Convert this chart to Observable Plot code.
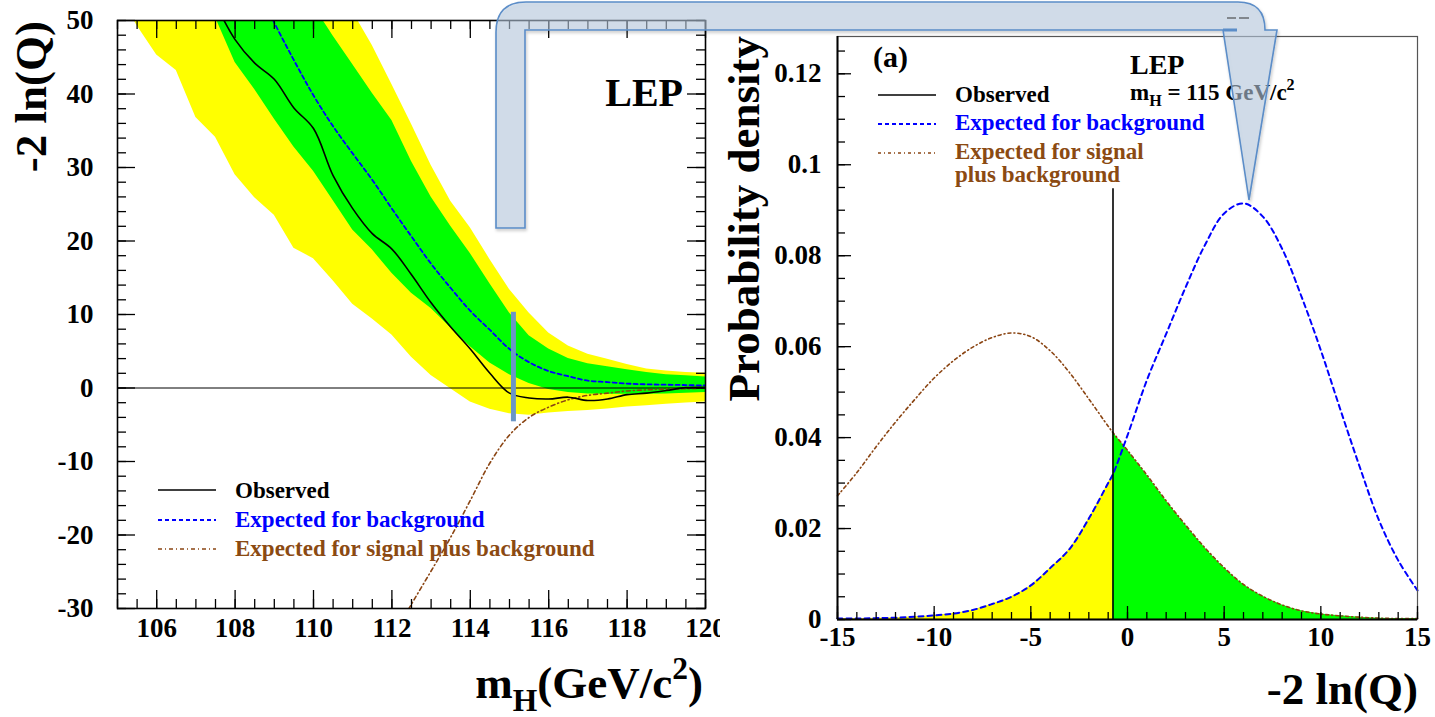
<!DOCTYPE html>
<html><head><meta charset="utf-8">
<script src="https://cdn.jsdelivr.net/npm/d3@7"></script>
<script src="https://cdn.jsdelivr.net/npm/@observablehq/plot@0.6"></script>
<style>
body{margin:0;background:#fff;}
#wrap{position:relative;width:1435px;height:717px;overflow:hidden;background:#fff;}
#left{position:absolute;left:0;top:0;}
#right{position:absolute;left:720px;top:0;}
#overlay{position:absolute;left:0;top:0;pointer-events:none;}
</style></head><body>
<div id="wrap"><div id="left"></div><div id="right"></div></div>
<script>
// ---------------- Left panel: -2 ln(Q) versus m_H ----------------
const mass = [105,105.5,106,106.5,107,107.5,108,108.5,109,109.5,110,110.5,111,111.5,112,112.5,113,113.5,114,114.5,115,115.5,116,116.5,117,117.5,118,118.5,119,119.5,120];
const yellowLow  = [54,49.3,45.3,43.2,36.8,34.1,29.0,25.9,23.5,19.0,17.6,14.6,11.4,9.4,7.2,4.2,1.7,-0.1,-1.9,-2.9,-3.5,-3.7,-3.4,-3.2,-3.05,-2.85,-2.6,-2.4,-2.2,-2.05,-1.9];
const yellowHigh = [112,106,100,94,88,83,78,73,68,64,60,55.5,51.2,46.6,41.3,35.9,30.3,25.4,21.8,17.5,13.4,10.2,7.5,5.7,4.6,3.9,3.2,2.6,2.3,2.1,2.0];
const greenLow   = [68,64,60,57,54,50.4,44.3,40.6,36.6,32.8,29.5,25.5,21.5,18.8,15.6,12.9,10.8,8.2,5.6,3.4,1.8,0.6,-0.2,-0.6,-0.8,-0.85,-0.85,-0.85,-0.8,-0.7,-0.6];
const greenHigh  = [95,90,85,80,75,70,66,62,59,55.5,52,47.9,44.0,40.1,36.4,30.8,26.0,22.0,18.3,14.2,10.2,7.1,5.3,4.0,3.3,2.9,2.5,2.1,1.8,1.65,1.5];
const observed   = [null,null,null,null,null,52.3,47.4,44.2,42.0,38.1,35.3,28.9,24.4,21.0,18.9,15.4,11.6,8.3,5.3,2.0,-0.7,-1.35,-1.5,-1.25,-1.7,-1.5,-0.9,-0.7,-0.35,0.05,0.1];
const expBkg     = [null,null,null,null,null,null,null,55.3,49.7,44.6,39.8,35.6,31.9,28.3,24.4,20.6,16.9,13.6,10.5,7.9,5.3,3.5,2.3,1.6,1.0,0.8,0.6,0.5,0.45,0.4,0.34];
const expSB      = [null,null,null,null,null,null,null,null,null,null,null,null,null,null,-34,-29.4,-24.9,-20.3,-15.3,-10.2,-6.4,-4.0,-2.6,-1.6,-1.0,-0.7,-0.4,-0.25,-0.15,-0.1,0];
const markerMass = [115.1];
const markerLow  = [-4.6];
const markerHigh = [10.3];
const leftXTicks = [106,108,110,112,114,116,118,120];
const leftYTicks = [-30,-20,-10,0,10,20,30,40,50];

// ---------------- Right panel: probability densities ----------------
const lnQ    = [-15,-14,-13,-12,-11,-10,-9,-8,-7,-6,-5,-4,-3,-2,-1,-0.75,0,1,2,3,4,5,6,7,8,9,10,11,12,13,14,15];
const pdfBkg = [0.0002,0.0002,0.0003,0.0004,0.0006,0.0009,0.0013,0.0021,0.0034,0.0050,0.0075,0.0113,0.0155,0.0222,0.0300,0.0320,0.0405,0.0526,0.0628,0.0730,0.0823,0.0893,0.0915,0.0886,0.0815,0.0710,0.0592,0.0463,0.0337,0.0219,0.0130,0.0064];
const pdfSB  = [0.0272,0.0323,0.0380,0.0434,0.0484,0.0531,0.0569,0.0599,0.0620,0.0630,0.0622,0.0591,0.0543,0.0485,0.0425,0.0411,0.0372,0.0318,0.0261,0.0208,0.0158,0.0114,0.0077,0.0051,0.0032,0.0019,0.0012,0.0008,0.0005,0.0003,0.0002,0.0002];
const observedLnQ = [-0.75];
const observedTop = [0.0947];
const rightXTicks = [-15,-10,-5,0,5,10,15];
const rightYTicks = [0,0.02,0.04,0.06,0.08,0.1,0.12];

const FONT = "'Liberation Serif','Times New Roman',Times,serif";
const BROWN = "#8b4513";
const BLUE = "#0000ff";

const leftRows = mass.map((m,i)=>({m, yl:yellowLow[i], yh:yellowHigh[i], gl:greenLow[i], gh:greenHigh[i], obs:observed[i], bkg:expBkg[i], sb:expSB[i]}));
const markerRows = markerMass.map((m,i)=>({m, lo:markerLow[i], hi:markerHigh[i]}));
const rightRows = lnQ.map((x,i)=>({x, bkg:pdfBkg[i], sb:pdfSB[i]}));
const obsRows = observedLnQ.map((x,i)=>({x, lo:0, hi:observedTop[i]}));

// Left panel geometry (frame inside margins)
const L = {w:720, h:717, ml:117, mr:15, mt:20, mb:109};
const LFW = L.w-L.ml-L.mr, LFH = L.h-L.mt-L.mb;
const leftMinorX = d3.range(105, 120.001, 0.5);
const leftMinorY = d3.range(-30, 50.001, 2);

const left = Plot.plot({
  width:L.w, height:L.h, marginLeft:L.ml, marginRight:L.mr, marginTop:L.mt, marginBottom:L.mb,
  style:{fontFamily:FONT, fontWeight:"bold", fontSize:"27px", background:"white", color:"black"},
  x:{domain:[105,120], ticks:leftXTicks, tickSize:0, tickPadding:9, tickFormat:d=>String(d), label:null},
  y:{domain:[-30,50], ticks:leftYTicks, tickSize:0, tickPadding:24, tickFormat:d=>String(d), label:null},
  marks:[
    Plot.areaY(leftRows, {x:"m", y1:"yl", y2:"yh", fill:"#ffff00", clip:true}),
    Plot.areaY(leftRows, {x:"m", y1:"gl", y2:"gh", fill:"#00ff00", clip:true}),
    Plot.ruleY([0], {stroke:"black", strokeWidth:1}),
    Plot.line(leftRows.filter(d=>d.bkg!=null), {x:"m", y:"bkg", stroke:BLUE, strokeWidth:1.8, strokeDasharray:"4,3", curve:"catmull-rom", clip:true}),
    Plot.line(leftRows.filter(d=>d.sb!=null), {x:"m", y:"sb", stroke:BROWN, strokeWidth:1.6, strokeDasharray:"4,3,1,3", curve:"catmull-rom", clip:true}),
    Plot.line(leftRows.filter(d=>d.obs!=null), {x:"m", y:"obs", stroke:"black", strokeWidth:1.6, curve:"catmull-rom", clip:true}),
    Plot.ruleX(markerRows, {x:"m", y1:"lo", y2:"hi", stroke:"#6b96c6", strokeWidth:5}),
    // inward ticks, all four sides
    Plot.ruleX(leftXTicks, {x:d=>d, insetTop:LFH-18, stroke:"black", strokeWidth:1.3}),
    Plot.ruleX(leftMinorX, {x:d=>d, insetTop:LFH-9, stroke:"black", strokeWidth:1.3}),
    Plot.ruleX(leftXTicks, {x:d=>d, insetBottom:LFH-18, stroke:"black", strokeWidth:1.3}),
    Plot.ruleX(leftMinorX, {x:d=>d, insetBottom:LFH-9, stroke:"black", strokeWidth:1.3}),
    Plot.ruleY(leftYTicks, {y:d=>d, insetRight:LFW-18, stroke:"black", strokeWidth:1.3}),
    Plot.ruleY(leftMinorY, {y:d=>d, insetRight:LFW-9, stroke:"black", strokeWidth:1.3}),
    Plot.ruleY(leftYTicks, {y:d=>d, insetLeft:LFW-18, stroke:"black", strokeWidth:1.3}),
    Plot.ruleY(leftMinorY, {y:d=>d, insetLeft:LFW-9, stroke:"black", strokeWidth:1.3}),
    Plot.frame({stroke:"black", strokeWidth:1.6})
  ]
});

// Right panel geometry
const R = {w:715, h:717, ml:117, mr:18, mt:36, mb:98};
const RFW = R.w-R.ml-R.mr, RFH = R.h-R.mt-R.mb;
const rightMinorX = d3.range(-15, 15.001, 1);
const rightMinorY = d3.range(0, 0.1281, 0.005);
const obsX = observedLnQ[0];

const right = Plot.plot({
  width:R.w, height:R.h, marginLeft:R.ml, marginRight:R.mr, marginTop:R.mt, marginBottom:R.mb,
  style:{fontFamily:FONT, fontWeight:"bold", fontSize:"27px", background:"white", color:"black"},
  x:{domain:[-15,15], ticks:rightXTicks, tickSize:0, tickPadding:7, tickFormat:d=>String(d), label:null},
  y:{domain:[0,0.1282], ticks:rightYTicks, tickSize:0, tickPadding:16, tickFormat:d=>String(d), label:null},
  marks:[
    Plot.areaY(rightRows.filter(d=>d.x<=obsX), {x:"x", y:"bkg", fill:"#ffff00", curve:"catmull-rom"}),
    Plot.areaY(rightRows.filter(d=>d.x>=obsX), {x:"x", y:"sb", fill:"#00ff00", curve:"catmull-rom"}),
    Plot.line(rightRows, {x:"x", y:"sb", stroke:BROWN, strokeWidth:1.6, strokeDasharray:"3,3,1,3", curve:"catmull-rom"}),
    Plot.line(rightRows, {x:"x", y:"bkg", stroke:BLUE, strokeWidth:2, strokeDasharray:"5,4", curve:"catmull-rom"}),
    Plot.ruleX(obsRows, {x:"x", y1:"lo", y2:"hi", stroke:"black", strokeWidth:1.6}),
    Plot.frame({stroke:"#555", strokeWidth:1.2}),
    Plot.ruleX(rightMinorX, {x:d=>d, insetTop:RFH-7, stroke:"black", strokeWidth:1.3}),
    Plot.ruleX(rightXTicks, {x:d=>d, insetTop:RFH-13, stroke:"black", strokeWidth:1.3}),
    Plot.ruleY(rightMinorY, {y:d=>d, insetRight:RFW-8, stroke:"black", strokeWidth:1.3}),
    Plot.ruleY(rightYTicks, {y:d=>d, insetRight:RFW-14, stroke:"black", strokeWidth:1.3}),
    Plot.ruleX([-15], {x:d=>d, stroke:"black", strokeWidth:2}),
    Plot.ruleY([0], {y:d=>d, stroke:"black", strokeWidth:2})
  ]
});

document.getElementById("left").appendChild(left);
document.getElementById("right").appendChild(right);

// ---------- text annotations, titles, legends ----------
function txt(svg, x, y, size, color, anchor, parts, rotate){
  const t = d3.select(svg).append("text")
    .attr("transform", `translate(${x},${y})` + (rotate ? ` rotate(${rotate})` : ""))
    .attr("font-family", FONT).attr("font-weight","bold").attr("font-size", size)
    .attr("fill", color).attr("text-anchor", anchor).style("font-size", size+"px");
  let shift = 0;
  for (const p of parts) {
    if (typeof p === "string") {
      t.append("tspan").attr("dy", -shift).text(p); shift = 0;
    } else {
      const s = p.sub ? size*0.28 : -size*0.42;
      t.append("tspan").attr("dy", s - shift).attr("font-size", size*0.7).style("font-size", (size*0.7)+"px").text(p.sub || p.sup);
      shift = s;
    }
  }
  return t;
}
function sample(svg, x1, x2, y, stroke, dash, w){
  d3.select(svg).append("line").attr("x1",x1).attr("x2",x2).attr("y1",y).attr("y2",y)
    .attr("stroke",stroke).attr("stroke-width",w||1.6).attr("stroke-dasharray",dash||null);
}

// left panel
txt(left, 46, 21, 45, "black", "end", ["-2 ln(Q)"], -90);
txt(left, 703, 698, 45, "black", "end", ["m", {sub:"H"}, "(GeV/c", {sup:"2"}, ")"]);
txt(left, 683, 106, 40, "black", "end", ["LEP"]);
sample(left, 158, 216, 490, "black");
sample(left, 158, 216, 520, BLUE, "4,3", 1.8);
sample(left, 158, 216, 549, BROWN, "4,3,1,3");
txt(left, 235, 498, 23, "black", "start", ["Observed"]);
txt(left, 235, 527, 23, BLUE, "start", ["Expected for background"]);
txt(left, 235, 556, 23, "#8b4a12", "start", ["Expected for signal plus background"]);

// right panel
txt(right, 39, 36, 45, "black", "end", ["Probability density"], -90);
txt(right, 698, 704, 45, "black", "end", ["-2 ln(Q)"]);
txt(right, 153, 67, 30, "black", "start", ["(a)"]);
txt(right, 410, 74, 28, "black", "start", ["LEP"]);
txt(right, 410, 100, 23, "black", "start", ["m", {sub:"H"}, " = 115 GeV/c", {sup:"2"}]);
sample(right, 158, 216, 95, "black");
sample(right, 158, 216, 124, BLUE, "4,3", 1.8);
sample(right, 158, 216, 153, BROWN, "3,3,1,3");
txt(right, 235, 102, 23, "black", "start", ["Observed"]);
txt(right, 235, 130, 23, BLUE, "start", ["Expected for background"]);
txt(right, 235, 159, 23, "#8b4a12", "start", ["Expected for signal"]);
txt(right, 235, 182, 23, "#8b4a12", "start", ["plus background"]);

// ---------- bent arrow overlay spanning both panels ----------
const ov = d3.select("#wrap").append("svg").attr("id","overlay").attr("width",1435).attr("height",717);
const defs = ov.append("defs");
const f = defs.append("filter").attr("id","sh").attr("x","-10%").attr("y","-10%").attr("width","130%").attr("height","130%");
f.append("feDropShadow").attr("dx",1).attr("dy",2).attr("stdDeviation",1.5).attr("flood-color","#000").attr("flood-opacity",0.25);
ov.append("path")
  .attr("d","M496,228 V32 Q496,2 526,2 H1238 Q1265,2 1265,30 H1277 L1249,200 L1223,30 H525 V228 Z")
  .attr("fill","#b9cde3").attr("fill-opacity",0.55)
  .attr("stroke","#5b8dc8").attr("stroke-width",1.6).attr("filter","url(#sh)");
ov.append("line").attr("x1",1223).attr("x2",1237).attr("y1",30).attr("y2",30).attr("stroke","#5b8dc8").attr("stroke-width",3);
ov.append("line").attr("x1",1227).attr("x2",1236).attr("y1",18).attr("y2",18).attr("stroke","#333").attr("stroke-width",1);
ov.append("line").attr("x1",1239).attr("x2",1249).attr("y1",18).attr("y2",18).attr("stroke","#333").attr("stroke-width",1);
</script>
</body></html>
